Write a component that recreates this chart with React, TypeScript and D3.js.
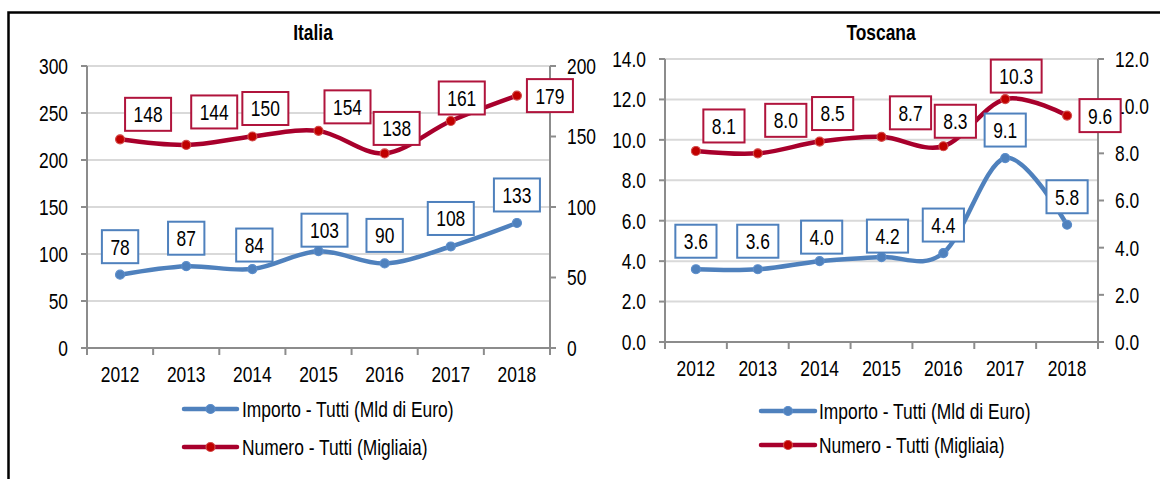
import React, { useEffect, useRef } from 'react';
import * as d3 from 'd3';

// ---- Data ----
const years = ['2012', '2013', '2014', '2015', '2016', '2017', '2018'];
const italiaImporto = [78, 87, 84, 103, 90, 108, 133];
const italiaNumero = [148, 144, 150, 154, 138, 161, 179];
const toscanaImporto = [3.6, 3.6, 4.0, 4.2, 4.4, 9.1, 5.8];
const toscanaNumero = [8.1, 8.0, 8.5, 8.7, 8.3, 10.3, 9.6];
const italiaLeftTicks = [0, 50, 100, 150, 200, 250, 300];
const italiaRightTicks = [0, 50, 100, 150, 200];
const toscanaLeftTicks = [0, 2, 4, 6, 8, 10, 12, 14];
const toscanaRightTicks = [0, 2, 4, 6, 8, 10, 12];
const seriesNames = ['Importo - Tutti (Mld di Euro)', 'Numero - Tutti (Migliaia)'];
const panelTitles = ['Italia', 'Toscana'];

// ---- Layout / style ----
const FONT = "'Liberation Sans', Arial, sans-serif";
const FS = 22;
const NARROW = 0.79; // emulate Arial Narrow by horizontally condensing Liberation Sans
const DY = 7.9; // baseline shift to vertically center digits
const BLUE = '#4F81BD';
const RED_LINE = '#A8002C';
const RED_MARK = '#C00000';
const RED_BOX = '#B0143C';
const GRID = '#D9D9D9';
const AXIS = '#8C8C8C';

// label offsets relative to the point (layout of manually placed Excel labels)
const blueLabelOffsets = [[0, -28], [0, -28], [2, -24], [6, -21], [0, -28], [0, -28], [0, -28]];
const redLabelOffsets = [[28, -25], [28, -33], [13, -28], [29, -24], [12, -25], [11, -23], [33, 0]];

type Panel = {
  title: string;
  titleX: number;
  x0: number;
  x1: number;
  yTop: number;
  yBottom: number;
  leftTicks: number[];
  rightTicks: number[];
  importo: number[];
  numero: number[];
  fmtTick: (v: number) => string;
  fmtLabel: (v: number) => string;
  legendX0: number;
  legendX1: number;
  legendTextX: number;
  legendY: [number, number];
};

const panels: Panel[] = [
  {
    title: panelTitles[0],
    titleX: 313,
    x0: 87,
    x1: 550,
    yTop: 66,
    yBottom: 348,
    leftTicks: italiaLeftTicks,
    rightTicks: italiaRightTicks,
    importo: italiaImporto,
    numero: italiaNumero,
    fmtTick: d3.format('d'),
    fmtLabel: d3.format('d'),
    legendX0: 184,
    legendX1: 237,
    legendTextX: 242,
    legendY: [409, 447],
  },
  {
    title: panelTitles[1],
    titleX: 881,
    x0: 665,
    x1: 1098,
    yTop: 59,
    yBottom: 342,
    leftTicks: toscanaLeftTicks,
    rightTicks: toscanaRightTicks,
    importo: toscanaImporto,
    numero: toscanaNumero,
    fmtTick: d3.format('.1f'),
    fmtLabel: d3.format('.1f'),
    legendX0: 761,
    legendX1: 815,
    legendTextX: 819,
    legendY: [411, 445],
  },
];

function condense(el: SVGTextElement) {
  const l = el.getComputedTextLength();
  el.setAttribute('textLength', String(l * NARROW));
  el.setAttribute('lengthAdjust', 'spacingAndGlyphs');
  return l * NARROW;
}

function drawPanel(root: d3.Selection<SVGGElement, unknown, null, undefined>, p: Panel) {
  const g = root.append('g');
  const x = d3.scaleBand<string>().domain(years).range([p.x0, p.x1]).paddingInner(0).paddingOuter(0);
  const cx = (d: string) => (x(d) as number) + x.bandwidth() / 2;
  const yL = d3.scaleLinear().domain([0, d3.max(p.leftTicks) as number]).range([p.yBottom, p.yTop]);
  const yR = d3.scaleLinear().domain([0, d3.max(p.rightTicks) as number]).range([p.yBottom, p.yTop]);

  // title
  g.append('text')
    .attr('x', p.titleX)
    .attr('y', 32 + DY)
    .attr('text-anchor', 'middle')
    .attr('font-family', FONT)
    .attr('font-size', FS)
    .attr('font-weight', 'bold')
    .attr('fill', '#000')
    .text(p.title);

  // gridlines
  g.selectAll('line.grid')
    .data(p.leftTicks.filter((t) => t !== 0))
    .enter()
    .append('line')
    .attr('x1', p.x0)
    .attr('x2', p.x1)
    .attr('y1', (d) => yL(d))
    .attr('y2', (d) => yL(d))
    .attr('stroke', GRID)
    .attr('stroke-width', 2);

  // left axis
  g.append('line').attr('x1', p.x0).attr('x2', p.x0).attr('y1', p.yTop).attr('y2', p.yBottom)
    .attr('stroke', AXIS).attr('stroke-width', 2);
  g.selectAll('line.lt').data(p.leftTicks).enter().append('line')
    .attr('x1', p.x0 - 6).attr('x2', p.x0).attr('y1', (d) => yL(d)).attr('y2', (d) => yL(d))
    .attr('stroke', AXIS).attr('stroke-width', 2);
  g.selectAll('text.lt').data(p.leftTicks).enter().append('text')
    .attr('x', p.x0 - 19).attr('y', (d) => yL(d) + DY)
    .attr('text-anchor', 'end').attr('font-family', FONT).attr('font-size', FS).attr('fill', '#000')
    .text((d) => p.fmtTick(d));

  // right axis
  g.append('line').attr('x1', p.x1).attr('x2', p.x1).attr('y1', p.yTop).attr('y2', p.yBottom)
    .attr('stroke', AXIS).attr('stroke-width', 2);
  g.selectAll('line.rt').data(p.rightTicks).enter().append('line')
    .attr('x1', p.x1).attr('x2', p.x1 + 6).attr('y1', (d) => yR(d)).attr('y2', (d) => yR(d))
    .attr('stroke', AXIS).attr('stroke-width', 2);
  g.selectAll('text.rt').data(p.rightTicks).enter().append('text')
    .attr('x', p.x1 + 17).attr('y', (d) => yR(d) + DY)
    .attr('text-anchor', 'start').attr('font-family', FONT).attr('font-size', FS).attr('fill', '#000')
    .text((d) => p.fmtTick(d));

  // x axis
  g.append('line').attr('x1', p.x0 - 6).attr('x2', p.x1 + 6).attr('y1', p.yBottom).attr('y2', p.yBottom)
    .attr('stroke', AXIS).attr('stroke-width', 2);
  const bounds = years.map((d) => x(d) as number).concat([p.x1]);
  g.selectAll('line.xt').data(bounds).enter().append('line')
    .attr('x1', (d) => d).attr('x2', (d) => d).attr('y1', p.yBottom).attr('y2', p.yBottom + 7)
    .attr('stroke', AXIS).attr('stroke-width', 2);
  g.selectAll('text.xt').data(years).enter().append('text')
    .attr('x', (d) => cx(d)).attr('y', p.yBottom + 26 + DY)
    .attr('text-anchor', 'middle').attr('font-family', FONT).attr('font-size', FS).attr('fill', '#000')
    .text((d) => d);

  const curve = d3.curveCardinal.tension(0);
  const series = [
    { values: p.importo, y: yL, line: BLUE, mark: BLUE, markStroke: '#5B8DCB', box: BLUE, offsets: blueLabelOffsets },
    { values: p.numero, y: yR, line: RED_LINE, mark: RED_MARK, markStroke: '#D24A4A', box: RED_BOX, offsets: redLabelOffsets },
  ];

  series.forEach((s) => {
    const lineGen = d3.line<number>().x((_, i) => cx(years[i])).y((v) => s.y(v)).curve(curve);
    g.append('path').attr('d', lineGen(s.values) as string).attr('fill', 'none')
      .attr('stroke', s.line).attr('stroke-width', 4.5).attr('stroke-linecap', 'round').attr('stroke-linejoin', 'round');
    g.selectAll(null).data(s.values).enter().append('circle')
      .attr('cx', (_, i) => cx(years[i])).attr('cy', (v) => s.y(v)).attr('r', 4.5)
      .attr('fill', s.mark).attr('stroke', s.markStroke).attr('stroke-width', 1.2);
  });

  // data labels
  series.forEach((s) => {
    s.values.forEach((v, i) => {
      const px = cx(years[i]) + s.offsets[i][0];
      const py = s.y(v) + s.offsets[i][1];
      const lg = g.append('g');
      const rect = lg.append('rect');
      const t = lg.append('text')
        .attr('x', px).attr('y', py + DY)
        .attr('text-anchor', 'middle').attr('font-family', FONT).attr('font-size', FS).attr('fill', '#000')
        .text(p.fmtLabel(v));
      const tw = condense(t.node() as SVGTextElement);
      const w = tw + 17;
      const h = 33;
      rect.attr('x', px - w / 2).attr('y', py - h / 2).attr('width', w).attr('height', h)
        .attr('fill', '#fff').attr('stroke', s.box).attr('stroke-width', 2);
    });
  });

  // legend
  series.forEach((s, i) => {
    const ly = p.legendY[i];
    g.append('line').attr('x1', p.legendX0).attr('x2', p.legendX1).attr('y1', ly).attr('y2', ly)
      .attr('stroke', s.line).attr('stroke-width', 4.5).attr('stroke-linecap', 'round');
    g.append('circle').attr('cx', (p.legendX0 + p.legendX1) / 2).attr('cy', ly).attr('r', 4.5)
      .attr('fill', s.mark).attr('stroke', s.markStroke).attr('stroke-width', 1.2);
    g.append('text').attr('x', p.legendTextX).attr('y', ly + DY)
      .attr('font-family', FONT).attr('font-size', FS).attr('fill', '#000')
      .text(seriesNames[i]);
  });
}

export default function App() {
  const ref = useRef<SVGSVGElement | null>(null);

  useEffect(() => {
    if (!ref.current) return;
    const svg = d3.select(ref.current);
    svg.selectAll('*').remove();
    svg.append('rect').attr('x', 0).attr('y', 0).attr('width', 1160).attr('height', 479).attr('fill', '#fff');
    const root = svg.append('g');
    panels.forEach((p) => drawPanel(root, p));
    // condense every remaining text element to mimic a narrow typeface
    svg.selectAll<SVGTextElement, unknown>('text').each(function () {
      if (!this.getAttribute('textLength')) condense(this);
    });
    // outer frame (top and left edges visible)
    svg.append('path').attr('d', 'M8.5,482 V12.5 H1165').attr('fill', 'none')
      .attr('stroke', '#000').attr('stroke-width', 2.5);
  }, []);

  return (
    <svg
      ref={ref}
      width={1160}
      height={479}
      style={{ position: 'absolute', left: 0, top: 0, display: 'block' }}
    />
  );
}
